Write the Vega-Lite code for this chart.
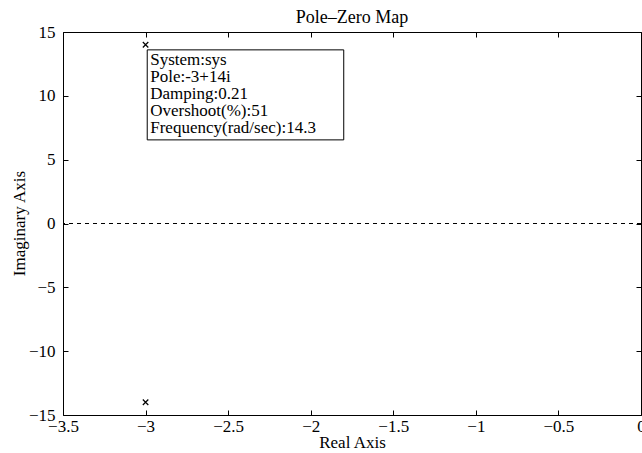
{
  "$schema": "https://vega.github.io/schema/vega-lite/v6.json",
  "width": 578,
  "height": 383,
  "autosize": {"type": "none"},
  "padding": {"left": 63, "top": 32, "right": 1, "bottom": 38},
  "background": "white",
  "title": {"text": "Pole–Zero Map", "font": "Liberation Serif", "fontSize": 18, "fontWeight": "normal", "color": "black", "offset": -4, "frame": "group"},
  "config": {
    "view": {"stroke": "black", "strokeWidth": 1},
    "axis": {
      "domain": false, "grid": false, "ticks": true, "tickSize": -5, "tickColor": "black", "tickWidth": 1,
      "labelFont": "Liberation Serif", "labelFontSize": 17, "labelColor": "black",
      "titleFont": "Liberation Serif", "titleFontSize": 17, "titleFontWeight": "normal", "titleColor": "black"
    }
  },
  "datasets": {
    "poles": [{"re": -3, "im": 14}, {"re": -3, "im": -14}],
    "tip": [{"re0": -2.99, "re1": -1.8, "im0": 13.6, "im1": 6.55, "lines": ["System:sys", "Pole:-3+14i", "Damping:0.21", "Overshoot(%):51", "Frequency(rad/sec):14.3"]}]
  },
  "layer": [
    {
      "data": {"name": "poles"},
      "mark": {"type": "rule", "strokeDash": [4, 4], "color": "black", "strokeWidth": 1},
      "encoding": {"y": {"datum": 0, "type": "quantitative", "scale": {"domain": [-15, 15], "nice": false, "zero": false}, "axis": null}}
    },
    {
      "data": {"name": "poles"},
      "mark": {"type": "point", "shape": "M-1,-1L1,1M-1,1L1,-1", "filled": false, "stroke": "black", "strokeWidth": 1.2, "size": 30, "opacity": 1},
      "encoding": {
        "x": {"field": "re", "type": "quantitative", "scale": {"domain": [-3.5, 0], "nice": false, "zero": false},
              "axis": {"orient": "bottom", "values": [-3.5, -3, -2.5, -2, -1.5, -1, -0.5, 0], "format": "~g", "labelFlush": false, "labelPadding": 8, "title": "Real Axis", "titleBaseline": "alphabetic", "titleY": 32}},
        "y": {"field": "im", "type": "quantitative", "scale": {"domain": [-15, 15], "nice": false, "zero": false},
              "axis": {"orient": "left", "values": [-15, -10, -5, 0, 5, 10, 15], "format": "d", "labelFlush": false, "labelPadding": 13, "title": "Imaginary Axis", "titleAngle": -90, "titleBaseline": "alphabetic", "titleX": -39, "titleY": 191}}
      }
    },
    {
      "data": {"name": "tip"},
      "mark": {"type": "rect", "fill": "white", "stroke": "black", "strokeWidth": 1},
      "encoding": {
        "x": {"field": "re0", "type": "quantitative", "axis": {"orient": "top", "values": [-3.5, -3, -2.5, -2, -1.5, -1, -0.5, 0], "labels": false, "title": null}},
        "x2": {"field": "re1"},
        "y": {"field": "im0", "type": "quantitative", "axis": {"orient": "right", "values": [-15, -10, -5, 0, 5, 10, 15], "labels": false, "title": null}},
        "y2": {"field": "im1"}
      }
    },
    {
      "data": {"name": "tip"},
      "mark": {"type": "text", "align": "left", "baseline": "top", "font": "Liberation Serif", "fontSize": 17, "lineHeight": 17, "color": "black", "dx": 3, "dy": 2},
      "encoding": {
        "x": {"field": "re0", "type": "quantitative", "axis": null},
        "y": {"field": "im0", "type": "quantitative", "axis": null},
        "text": {"field": "lines"}
      }
    }
  ],
  "resolve": {"axis": {"x": "independent", "y": "independent"}}
}
